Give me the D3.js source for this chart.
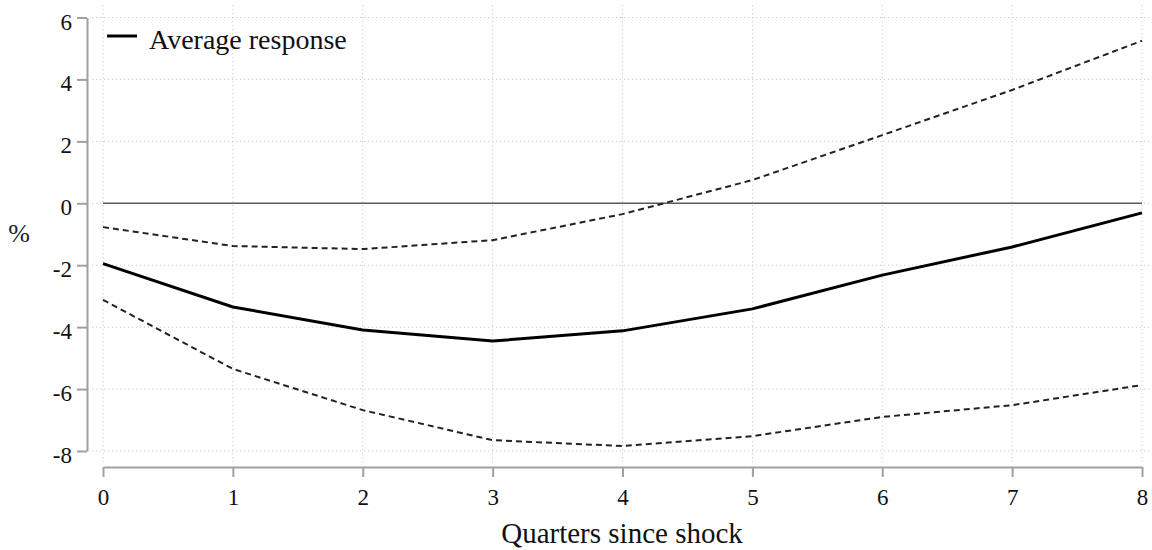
<!DOCTYPE html>
<html><head><meta charset="utf-8">
<script src="https://cdn.jsdelivr.net/npm/d3@7"></script>
<style>body{margin:0;background:#fff}svg{display:block}</style>
</head><body><svg id="c" width="1152" height="550"></svg>
<script>
const quarters = [0,1,2,3,4,5,6,7,8];
const average = [-1.95,-3.35,-4.09,-4.45,-4.12,-3.41,-2.32,-1.41,-0.31];
const upper = [-0.77,-1.38,-1.48,-1.19,-0.35,0.75,2.2,3.66,5.25];
const lower = [-3.12,-5.35,-6.68,-7.65,-7.84,-7.52,-6.9,-6.52,-5.87];
const yTicks = [-8,-6,-4,-2,0,2,4,6];
const xTicks = [0,1,2,3,4,5,6,7,8];

const svg = d3.select("#c");
const font = "'Liberation Serif','Times New Roman',serif";
const x = d3.scaleLinear().domain([0,8]).range([103,1142]);
const y = d3.scaleLinear().domain([-8,6]).range([451,17.5]);

// gridlines
const g = svg.append("g");
g.selectAll("line.h").data(yTicks).join("line")
  .attr("x1",92).attr("x2",1150).attr("y1",d=>y(d)).attr("y2",d=>y(d))
  .attr("stroke","#c8c8c8").attr("stroke-width",1).attr("stroke-dasharray","1.2,2.8");
g.selectAll("line.v").data(xTicks).join("line")
  .attr("y1",5).attr("y2",462).attr("x1",d=>x(d)).attr("x2",d=>x(d))
  .attr("stroke","#c8c8c8").attr("stroke-width",1).attr("stroke-dasharray","1.2,2.8");

// zero line
svg.append("line").attr("x1",x(0)).attr("x2",x(8)).attr("y1",y(0)).attr("y2",y(0))
  .attr("stroke","#5a5a5a").attr("stroke-width",1.6);

// axes
const fmt = d => String(d);
const yAxis = svg.append("g").attr("transform","translate(87,0)")
  .call(d3.axisLeft(y).tickValues(yTicks).tickSize(10).tickPadding(5).tickSizeOuter(0).tickFormat(fmt));
const xAxis = svg.append("g").attr("transform","translate(0,467)")
  .call(d3.axisBottom(x).tickValues(xTicks).tickSize(10).tickPadding(12).tickSizeOuter(0).tickFormat(fmt));
[yAxis,xAxis].forEach(a=>{
  a.attr("font-family",font).attr("font-size",23);
  a.select(".domain").attr("stroke","#a0a0a0").attr("stroke-width",2);
  a.selectAll(".tick line").attr("stroke","#a0a0a0").attr("stroke-width",2);
  a.selectAll("text").attr("font-family",font).attr("font-size",23).attr("fill","#111");
});
yAxis.selectAll("text").attr("dy","0.5em");

// lines
const line = d3.line().x((d,i)=>x(quarters[i])).y(d=>y(d));
svg.append("path").attr("d",line(upper)).attr("fill","none").attr("stroke","#222")
  .attr("stroke-width",2).attr("stroke-dasharray","6,4");
svg.append("path").attr("d",line(lower)).attr("fill","none").attr("stroke","#222")
  .attr("stroke-width",2).attr("stroke-dasharray","6,4");
svg.append("path").attr("d",line(average)).attr("fill","none").attr("stroke","#000")
  .attr("stroke-width",3);

// titles
svg.append("text").attr("x",622).attr("y",543).attr("text-anchor","middle")
  .attr("font-family",font).attr("font-size",29).attr("fill","#111").text("Quarters since shock");
svg.append("text").attr("x",19).attr("y",242).attr("text-anchor","middle")
  .attr("font-family",font).attr("font-size",26).attr("fill","#222").text("%");

// legend
svg.append("line").attr("x1",107).attr("x2",137).attr("y1",36).attr("y2",36)
  .attr("stroke","#000").attr("stroke-width",3);
svg.append("text").attr("x",149).attr("y",49).attr("font-family",font).attr("font-size",28)
  .attr("fill","#111").text("Average response");
</script></body></html>
